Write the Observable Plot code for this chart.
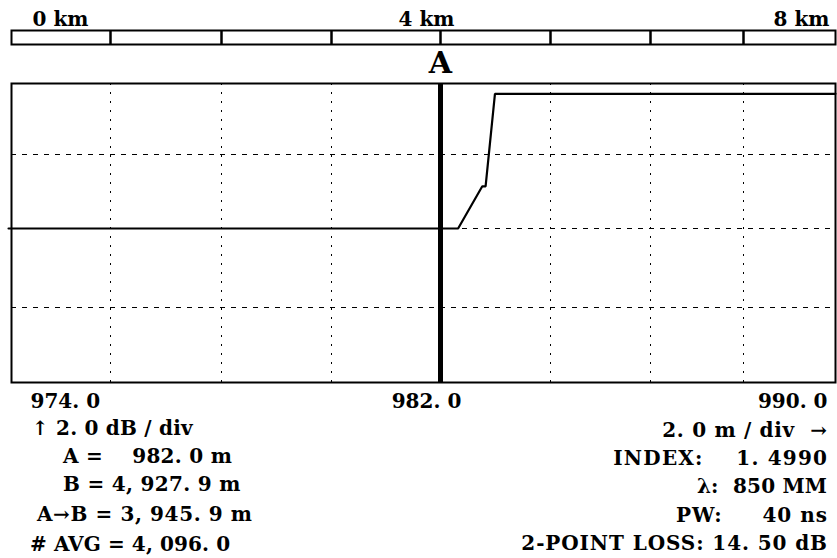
<!DOCTYPE html>
<html><head><meta charset="utf-8">
<script src="https://cdn.jsdelivr.net/npm/d3@7"></script>
<script src="https://cdn.jsdelivr.net/npm/@observablehq/plot@0.6"></script>
<style>
body{margin:0;background:#fff;}
#wrap{position:relative;width:837px;height:558px;overflow:hidden;font-family:"DejaVu Serif",serif;font-weight:bold;color:#000;}
#wrap svg{display:block;position:absolute;left:0;overflow:visible;}
.note{position:absolute;font-size:20px;line-height:24px;white-space:pre;}
</style></head><body><div id="wrap"></div>
<script>
// ---- data ----
const gridM = [974, 976, 978, 980, 982, 984, 986, 988, 990];     // 2.0 m / div
const gridDb = [0, 2, 4, 6, 8];                                   // 2.0 dB / div
const kmTicks = [0, 1, 2, 3, 4, 5, 6, 7, 8];
const kmLabels = [0, 4, 8];
const xLabels = [974, 982, 990];
const markerA = 982.0;
const traceM  = [973.94, 982.32, 982.76, 982.82, 982.99, 990];
const traceDb = [4, 4, 5.14, 5.14, 7.71, 7.71];
const leftNotes = ["\u2191 2. 0 dB / div", "A =    982. 0 m", "B = 4, 927. 9 m", "A\u2192B = 3, 945. 9 m", "# AVG = 4, 096. 0"];
const rightNotes = ["2. 0 m / div  \u2192", "INDEX:    1. 4990", "\u03bb:  850 MM", "PW:     40 ns", "2-POINT LOSS: 14. 50 dB"];

// ---- layout (the instrument screen's divisions are slightly uneven) ----
const gridPx = [11, 110, 221, 331, 440, 550, 650, 743, 835];
const yGridPx = [382, 307, 228, 154, 83];
const W = 837, L = 11, R = 835;
const font = "DejaVu Serif";
const wrap = document.getElementById("wrap");

// warp functions reproducing the uneven divisions (applied as scale transforms)
const warp = (domain, pxs, lo, hi, p0, p1) =>
  d3.scaleLinear().domain(domain).range(pxs.map(p => lo + (p - p0) * (hi - lo) / (p1 - p0)));
const kmWarp = warp(kmTicks, gridPx, 0, 8, L, R);
const mWarp = warp(gridM, gridPx, 974, 990, L, R);

// km scale bar
const kmPlot = Plot.plot({
  width: W, height: 48, marginTop: 30, marginBottom: 4, marginLeft: L, marginRight: W - R,
  x: {domain: [0, 8], transform: kmWarp, axis: null},
  style: {fontFamily: font, fontWeight: "bold", background: "transparent", color: "#000"},
  marks: [
    Plot.frame({stroke: "#000", strokeWidth: 2}),
    Plot.ruleX(kmTicks.slice(1, -1), {x: d => d, stroke: "#000", strokeWidth: 2.5}),
    Plot.text([kmLabels[0]], {x: d => d, text: d => d + " km", frameAnchor: "top", lineAnchor: "bottom", textAnchor: "start", dx: 21, dy: -5, fontSize: 20, fill: "#000"}),
    Plot.text([kmLabels[1]], {x: d => d, text: d => d + " km", frameAnchor: "top", lineAnchor: "bottom", dx: -14, dy: -5, fontSize: 20, fill: "#000"}),
    Plot.text([kmLabels[2]], {x: d => d, text: d => d + " km", frameAnchor: "top", lineAnchor: "bottom", textAnchor: "end", dx: -6, dy: -5, fontSize: 20, fill: "#000"})
  ]
});
kmPlot.style.top = "0px";
wrap.appendChild(kmPlot);

// main trace
const top0 = 48;
const yTop = yGridPx[4] - top0, yBot = yGridPx[0] - top0;
const dbWarp = d3.scaleLinear().domain(gridDb).range(yGridPx.map(p => 8 * (yGridPx[0] - p) / (yGridPx[0] - yGridPx[4])));
const trace = traceM.map((m, i) => ({m, db: traceDb[i]}));
const fmt = v => v.toFixed(1).replace(".", ". ");
const H = 367;
const main = Plot.plot({
  width: W, height: H, marginTop: yTop, marginBottom: H - yBot, marginLeft: L, marginRight: W - R,
  x: {domain: [974, 990], transform: mWarp, axis: null},
  y: {domain: [0, 8], transform: dbWarp, axis: null},
  style: {fontFamily: font, fontWeight: "bold", background: "transparent", color: "#000"},
  marks: [
    Plot.ruleX(gridM.slice(1, -1).filter(d => d !== markerA), {x: d => d, stroke: "#000", strokeWidth: 1, strokeDasharray: "2,7"}),
    Plot.ruleY(gridDb.slice(1, -1), {y: d => d, stroke: "#000", strokeWidth: 1, strokeDasharray: "5,6"}),
    Plot.line(trace, {x: "m", y: "db", stroke: "#000", strokeWidth: 2.2, strokeLinejoin: "miter"}),
    Plot.ruleX([markerA], {x: d => d, stroke: "#000", strokeWidth: 5}),
    Plot.frame({stroke: "#000", strokeWidth: 2}),
    Plot.text([markerA], {x: d => d, text: () => "A", frameAnchor: "top", lineAnchor: "bottom", dy: -11, fontSize: 30, fill: "#000"}),
    Plot.text([xLabels[0]], {x: d => d, text: fmt, frameAnchor: "bottom", lineAnchor: "bottom", textAnchor: "start", dx: 19, dy: 25.5, fontSize: 20, fill: "#000"}),
    Plot.text([xLabels[1]], {x: d => d, text: fmt, frameAnchor: "bottom", lineAnchor: "bottom", dx: -14, dy: 25.5, fontSize: 20, fill: "#000"}),
    Plot.text([xLabels[2]], {x: d => d, text: fmt, frameAnchor: "bottom", lineAnchor: "bottom", textAnchor: "end", dx: -8, dy: 25.5, fontSize: 20, fill: "#000"})
  ]
});
main.style.top = top0 + "px";
wrap.appendChild(main);

// readout block below the trace
const baseOff = 18.9;
const leftX = [32, 63, 63, 37, 30];
const leftB = [435, 463, 491, 521, 551];
const leftLS = [0.2, 0.3, 0.3, 0.6, 0.1];
const rightB = [437, 465, 493, 522, 550];
const rightLS = [0.7, 1.2, 0.2, 1.0, 0.9];
leftNotes.forEach((t, i) => {
  const d = document.createElement("div");
  d.className = "note"; d.textContent = t;
  d.style.left = leftX[i] + "px"; d.style.top = (leftB[i] - baseOff) + "px";
  d.style.letterSpacing = leftLS[i] + "px";
  wrap.appendChild(d);
});
rightNotes.forEach((t, i) => {
  const d = document.createElement("div");
  d.className = "note"; d.textContent = t;
  d.style.right = (W - 827 - rightLS[i]) + "px"; d.style.top = (rightB[i] - baseOff) + "px";
  d.style.letterSpacing = rightLS[i] + "px";
  wrap.appendChild(d);
});
</script>
</body></html>
